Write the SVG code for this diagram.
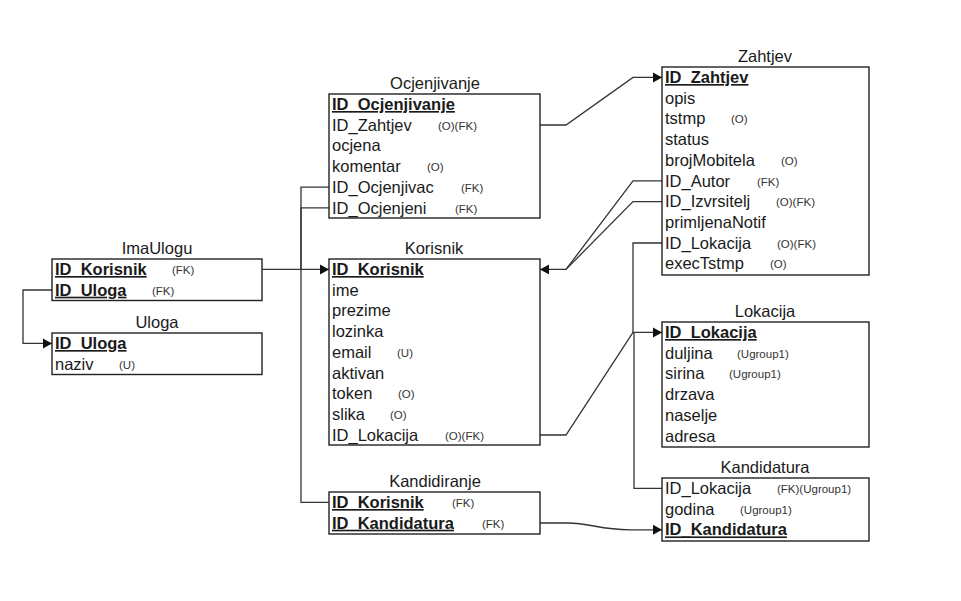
<svg xmlns="http://www.w3.org/2000/svg" width="961" height="601" viewBox="0 0 961 601">
<style>
.box{fill:#fff;stroke:#222;stroke-width:1.4}
.t{font-family:"Liberation Sans",Arial,sans-serif;font-size:16.5px;fill:#1a1a1a}
.title{text-anchor:middle}
.pk{font-weight:bold;text-decoration:underline}
.a{font-family:"Liberation Sans",Arial,sans-serif;font-size:11.5px;fill:#333}
.c{fill:none;stroke:#333;stroke-width:1.3}
.ce{fill:none;stroke:#333;stroke-width:1.3;marker-end:url(#arr)}
</style>
<defs>
<marker id="arr" markerUnits="userSpaceOnUse" markerWidth="10" markerHeight="12" refX="9" refY="5" orient="auto">
<path d="M0,0 L9,5 L0,10 z" fill="#111"/>
</marker>
</defs>
<rect width="961" height="601" fill="#fff"/>

<g id="connectors">
<path class="ce" d="M540,125 H566 L633,77.4 H662"/>
<path class="ce" d="M662,180.9 H633 L566,269.4 H540"/>
<path class="c" d="M662,201.6 H633 L566,269.4"/>
<path class="ce" d="M540,435 H566 L633,332.4 H662"/>
<path class="c" d="M662,243 H633 V332.4"/>
<path class="c" d="M662,488.4 H634 V332.4"/>
<path class="ce" d="M540,523 H568 C590,523 600,529.8 630,529.8 H662"/>
<path class="ce" d="M262,269.4 H329"/>
<path class="c" d="M329,187.2 H301 V269.4"/>
<path class="c" d="M329,207.9 H301 V269.4"/>
<path class="c" d="M329,502.4 H301 V269.4"/>
<path class="ce" d="M52,290 H23 V343.4 H52"/>
</g>

<g id="Ocjenjivanje">
<text class="t title" x="435" y="89">Ocjenjivanje</text>
<rect class="box" x="329" y="94" width="211" height="124"/>
<text class="t pk" x="332" y="110">ID_Ocjenjivanje</text>
<text class="t" x="332" y="130.7">ID_Zahtjev</text><text class="a" x="438" y="129.7">(O)(FK)</text>
<text class="t" x="332" y="151.4">ocjena</text>
<text class="t" x="332" y="172.1">komentar</text><text class="a" x="427" y="171.1">(O)</text>
<text class="t" x="332" y="192.8">ID_Ocjenjivac</text><text class="a" x="461" y="191.8">(FK)</text>
<text class="t" x="332" y="213.5">ID_Ocjenjeni</text><text class="a" x="455" y="212.5">(FK)</text>
</g>

<g id="Korisnik">
<text class="t title" x="434" y="254">Korisnik</text>
<rect class="box" x="329" y="259" width="211" height="186"/>
<text class="t pk" x="332" y="275">ID_Korisnik</text>
<text class="t" x="332" y="295.7">ime</text>
<text class="t" x="332" y="316.4">prezime</text>
<text class="t" x="332" y="337.1">lozinka</text>
<text class="t" x="332" y="357.8">email</text><text class="a" x="397" y="356.8">(U)</text>
<text class="t" x="332" y="378.5">aktivan</text>
<text class="t" x="332" y="399.2">token</text><text class="a" x="398" y="398.2">(O)</text>
<text class="t" x="332" y="419.9">slika</text><text class="a" x="390" y="418.9">(O)</text>
<text class="t" x="332" y="440.6">ID_Lokacija</text><text class="a" x="445" y="439.6">(O)(FK)</text>
</g>

<g id="Kandidiranje">
<text class="t title" x="435" y="487">Kandidiranje</text>
<rect class="box" x="329" y="492" width="211" height="42"/>
<text class="t pk" x="332" y="508">ID_Korisnik</text><text class="a" x="452" y="507">(FK)</text>
<text class="t pk" x="332" y="528.7">ID_Kandidatura</text><text class="a" x="482" y="527.7">(FK)</text>
</g>

<g id="ImaUlogu">
<text class="t title" x="157" y="254">ImaUlogu</text>
<rect class="box" x="52" y="259" width="210" height="41.5"/>
<text class="t pk" x="55" y="275">ID_Korisnik</text><text class="a" x="172" y="274">(FK)</text>
<text class="t pk" x="55" y="295.7">ID_Uloga</text><text class="a" x="152" y="294.7">(FK)</text>
</g>

<g id="Uloga">
<text class="t title" x="157" y="328">Uloga</text>
<rect class="box" x="52" y="333" width="210" height="41.5"/>
<text class="t pk" x="55" y="349">ID_Uloga</text>
<text class="t" x="55" y="369.7">naziv</text><text class="a" x="119" y="368.7">(U)</text>
</g>

<g id="Zahtjev">
<text class="t title" x="765" y="62">Zahtjev</text>
<rect class="box" x="662" y="67" width="207" height="208"/>
<text class="t pk" x="665" y="83">ID_Zahtjev</text>
<text class="t" x="665" y="103.7">opis</text>
<text class="t" x="665" y="124.4">tstmp</text><text class="a" x="731" y="123.4">(O)</text>
<text class="t" x="665" y="145.1">status</text>
<text class="t" x="665" y="165.8">brojMobitela</text><text class="a" x="781" y="164.8">(O)</text>
<text class="t" x="665" y="186.5">ID_Autor</text><text class="a" x="757" y="185.5">(FK)</text>
<text class="t" x="665" y="207.2">ID_Izvrsitelj</text><text class="a" x="776" y="206.2">(O)(FK)</text>
<text class="t" x="665" y="227.9">primljenaNotif</text>
<text class="t" x="665" y="248.6">ID_Lokacija</text><text class="a" x="777" y="247.6">(O)(FK)</text>
<text class="t" x="665" y="269.3">execTstmp</text><text class="a" x="770" y="268.3">(O)</text>
</g>

<g id="Lokacija">
<text class="t title" x="765" y="317">Lokacija</text>
<rect class="box" x="662" y="322" width="207" height="125"/>
<text class="t pk" x="665" y="338">ID_Lokacija</text>
<text class="t" x="665" y="358.7">duljina</text><text class="a" x="737" y="357.7">(Ugroup1)</text>
<text class="t" x="665" y="379.4">sirina</text><text class="a" x="729" y="378.4">(Ugroup1)</text>
<text class="t" x="665" y="400.1">drzava</text>
<text class="t" x="665" y="420.8">naselje</text>
<text class="t" x="665" y="441.5">adresa</text>
</g>

<g id="Kandidatura">
<text class="t title" x="765" y="473">Kandidatura</text>
<rect class="box" x="662" y="478" width="207" height="63"/>
<text class="t" x="665" y="494">ID_Lokacija</text><text class="a" x="777" y="493">(FK)(Ugroup1)</text>
<text class="t" x="665" y="514.7">godina</text><text class="a" x="740" y="513.7">(Ugroup1)</text>
<text class="t pk" x="665" y="535.4">ID_Kandidatura</text>
</g>
</svg>
